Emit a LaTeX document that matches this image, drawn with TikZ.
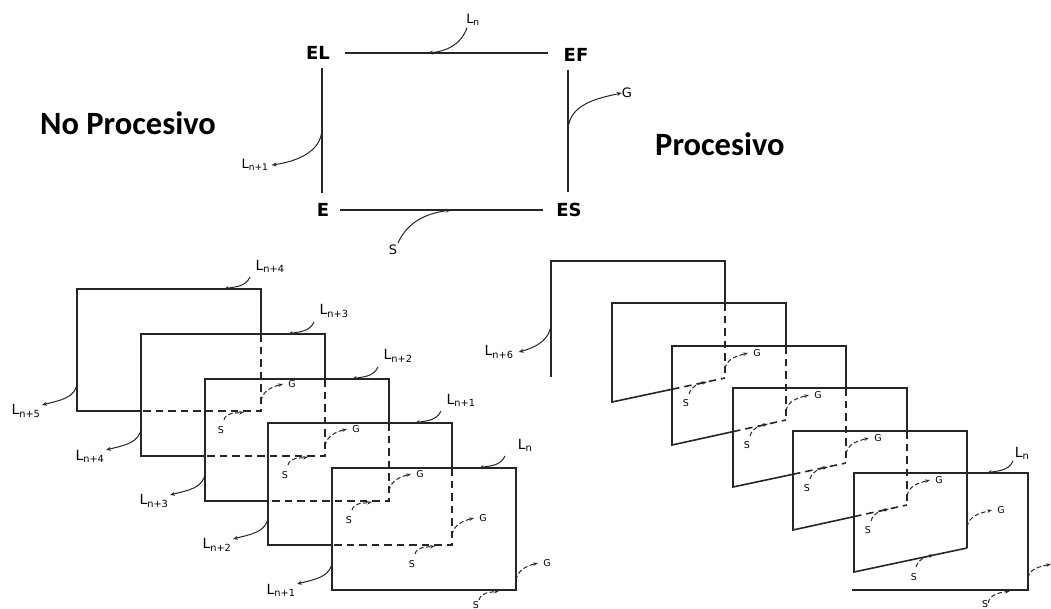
\documentclass[tikz,border=0pt]{standalone}
\usepackage{fontspec}
\setmainfont{DejaVu Sans}
\newfontfamily\titlefont{Carlito}
\usetikzlibrary{arrows.meta}
\tikzset{
  edge/.style={line width=1.6pt, draw=black!85},
  dashedge/.style={edge, dash pattern=on 7.5pt off 5pt},
  bigarr/.style={line width=1pt, draw=black!85, -{Stealth[length=5pt,width=4pt]}},
  smallarr/.style={line width=1pt, draw=black!85, dash pattern=on 4.5pt off 2.5pt, -{Stealth[length=5pt,width=3.5pt]}},
  state/.style={font=\bfseries\fontsize{18}{18}\selectfont, inner sep=0pt},
  title/.style={font=\titlefont\bfseries\fontsize{32.5}{33}\selectfont, inner sep=0pt},
  toplab/.style={font=\fontsize{13}{13}\selectfont, inner sep=0pt},
  llab/.style={font=\fontsize{14}{14}\selectfont, inner sep=0pt},
  sglab/.style={font=\fontsize{9.5}{9.5}\selectfont, inner sep=0pt},
}
\begin{document}
\begin{tikzpicture}[x=1pt,y=-1pt]
\useasboundingbox (0,0) rectangle (1051,609);
\clip (0,0) rectangle (1051,609);
\fill[white] (0,0) rectangle (1051,609);

% titles
\node[title, anchor=base west] (np) at (40,135) {No Procesivo};
\node[title, anchor=base west] (pr) at (655,156) {Procesivo};

% cycle square
\coordinate (cEL) at (322,53);
\coordinate (cEF) at (568,53);
\coordinate (cE) at (322,210);
\coordinate (cES) at (568,210);
\node[state] (EL) at (318,53) {EL};
\node[state] (EF) at (576,55) {EF};
\node[state] (E) at (323,210) {E};
\node[state] (ES) at (569,210) {ES};
\draw[edge, shorten <=23pt, shorten >=20pt] (cEL) -- (cEF);
\draw[edge, shorten <=18pt, shorten >=25pt] (cE) -- (cES);
\draw[edge, shorten <=15pt, shorten >=17pt] (cEL) -- (cE);
\draw[edge, shorten <=17pt, shorten >=18pt] (cEF) -- (cES);

\node[toplab] (Ln) at (473,20) {L\textsubscript{n}};
\coordinate (tLn) at (428,53);
\draw[bigarr] ([xshift=-6pt,yshift=-2pt]Ln.south) to[out=250,in=5] (tLn);
\node[toplab] (G0) at (627,93) {G};
\coordinate (sG0) at (568,130);
\draw[bigarr] (sG0) to[out=88,in=192] (G0.west);
\node[toplab] (Ln1) at (255,165) {L\textsubscript{n+1}};
\coordinate (sLn1) at (322,128);
\draw[bigarr] (sLn1) to[out=270,in=8] ([xshift=3pt]Ln1.east);
\node[toplab] (S0) at (393,250) {S};
\coordinate (tS0) at (451,210);
\draw[bigarr] ([xshift=5pt,yshift=2pt]S0.north) to[out=65,in=188] (tS0);

% non-processive stack
\foreach \k/\tl/\ll in {0/n+4/n+5,1/n+3/n+4,2/n+2/n+3,3/n+1/n+2,4/n/n+1}{
  \pgfmathsetmacro\lx{round(77+63.75*\k)}
  \pgfmathsetmacro\ty{round(289+44.75*\k)}
  \pgfmathsetmacro\rx{\lx+184}
  \pgfmathsetmacro\by{\ty+122}
  \pgfmathsetmacro\nx{round(77+63.75*(\k+1))}
  \pgfmathsetmacro\ny{round(289+44.75*(\k+1))}
  \ifnum\k<4
    \draw[edge] (\nx,\by) -- (\lx,\by) -- (\lx,\ty) -- (\rx,\ty) -- (\rx,\ny);
    \draw[dashedge] (\rx,\ny) -- (\rx,\by) -- (\nx,\by);
  \else
    \draw[edge] (\lx,\ty) rectangle (\rx,\by);
  \fi
  \node[llab] (LT\k) at (\rx+9,\ty-23) {L\textsubscript{\tl}};
  \draw[bigarr] (\rx-11,\ty-12) to[out=245,in=12] (\rx-37,\ty);
  \node[llab] (LL\k) at (\lx-51,\by) {L\textsubscript{\ll}};
  \draw[bigarr] (\lx,\by-29) to[out=270,in=15] (\lx-35,\by-6);
  \draw[smallarr] (\rx,\by-10) to[out=80,in=195] (\rx+22,\by-27);
  \node[sglab] (LG\k) at (\rx+31,\by-27) {G};
  \ifnum\k<4
    \draw[smallarr] (\rx-37,\by+9) to[out=75,in=190] (\rx-17,\by+1);
    \node[sglab] (LS\k) at (\rx-40,\by+19) {S};
  \else
    \draw[smallarr] (\rx-37,\by+10) to[out=75,in=190] (\rx-17,\by+1);
    \node[sglab] (LS\k) at (\rx-40,\by+15) {S};
  \fi
}

% processive chain
\foreach \j in {0,...,5}{
  \pgfmathsetmacro\qx{round(551+60.6*\j)}
  \pgfmathsetmacro\qy{round(261+42.4*\j)}
  \pgfmathsetmacro\rx{\qx+174}
  \pgfmathsetmacro\bl{\qy+99}
  \pgfmathsetmacro\cy{\qy+117}
  \pgfmathsetmacro\ny{round(261+42.4*(\j+1))}
  \pgfmathsetmacro\pcx{round(551+60.6*(\j-1))+174}
  \pgfmathsetmacro\pcy{round(261+42.4*(\j-1))+117}
  \pgfmathsetmacro\sx{round(551+60.6*(\j+1))}
  \pgfmathsetmacro\sy{\bl+(\pcy-\bl)*(\sx-\qx)/(\pcx-\qx)}
  \ifcase\j
    \draw[edge] (\qx,\qy+116) -- (\qx,\qy) -- (\rx,\qy) -- (\rx,\ny);
    \draw[dashedge] (\rx,\ny) -- (\rx,\cy);
  \or
    \draw[edge] (\sx,\sy) -- (\qx,\bl) -- (\qx,\qy) -- (\rx,\qy) -- (\rx,\ny);
    \draw[dashedge] (\rx,\ny) -- (\rx,\cy);
    \draw[dashedge] (\sx,\sy) -- (\pcx,\pcy);
  \or
    \draw[edge] (\sx,\sy) -- (\qx,\bl) -- (\qx,\qy) -- (\rx,\qy) -- (\rx,\ny);
    \draw[dashedge] (\rx,\ny) -- (\rx,\cy);
    \draw[dashedge] (\sx,\sy) -- (\pcx,\pcy);
  \or
    \draw[edge] (\sx,\sy) -- (\qx,\bl) -- (\qx,\qy) -- (\rx,\qy) -- (\rx,\ny);
    \draw[dashedge] (\rx,\ny) -- (\rx,\cy);
    \draw[dashedge] (\sx,\sy) -- (\pcx,\pcy);
  \or
    \draw[edge] (\sx,\sy) -- (\qx,\bl) -- (\qx,\qy) -- (\rx,\qy) -- (\rx,\cy);
    \draw[dashedge] (\sx,\sy) -- (\pcx,\pcy);
  \or
    \draw[edge] (\pcx,\pcy) -- (\qx,\bl) -- (\qx,\qy) -- (\rx,\qy) -- (\rx,\cy) -- (\qx-2,\cy);
  \fi
  \ifnum\j=4
    \draw[smallarr] (\rx,\cy-21) to[out=80,in=195] (\rx+25,\cy-38);
    \node[sglab] (RG\j) at (\rx+34,\cy-38) {G};
    \draw[smallarr] (\rx-51,\cy+19) to[out=75,in=192] (\rx-33,\cy+7);
    \node[sglab] (RS\j) at (\rx-53,\cy+29) {S};
  \else\ifnum\j=5
    \draw[smallarr] (\rx,\cy-12) to[out=80,in=195] (\rx+23,\cy-26);
    \draw[smallarr] (\rx-40,\cy+13) to[out=75,in=190] (\rx-18,\cy+1);
    \node[sglab] (RS\j) at (\rx-43,\cy+14) {S};
  \else
    \draw[smallarr] (\rx,\cy-9) to[out=80,in=195] (\rx+23,\cy-25);
    \node[sglab] (RG\j) at (\rx+32,\cy-25) {G};
    \draw[smallarr] (\rx-36,\cy+16) to[out=75,in=192] (\rx-18,\cy+4);
    \node[sglab] (RS\j) at (\rx-39,\cy+25) {S};
  \fi\fi
}
\node[llab] (Ln6) at (499,352) {L\textsubscript{n+6}};
\coordinate (sLn6) at (551,323);
\draw[bigarr] (sLn6) to[out=270,in=15] ([xshift=5pt]Ln6.east);
\node[llab] (RLn) at (1022,453) {L\textsubscript{n}};
\coordinate (tRLn) at (987,473);
\draw[bigarr] (1013,461) to[out=245,in=12] (tRLn);
\end{tikzpicture}
\end{document}
